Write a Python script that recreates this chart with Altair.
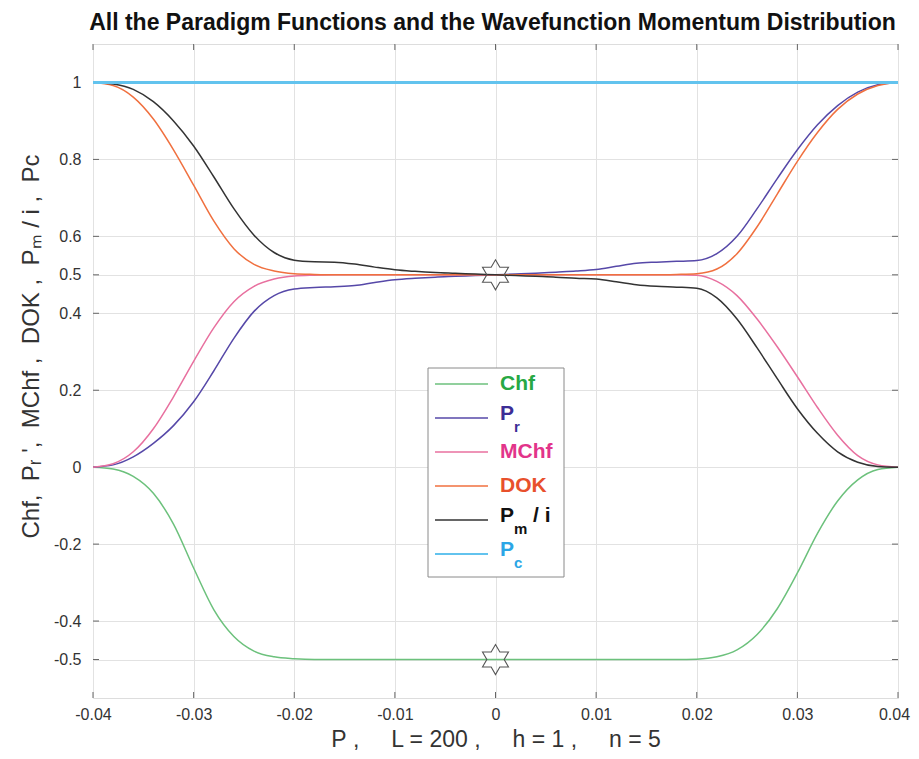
import altair as alt
import pandas as pd

# ---------------- data ----------------
x_vals = [-0.040, -0.038, -0.036, -0.034, -0.032, -0.030, -0.028, -0.026, -0.024, -0.022,
          -0.020, -0.018, -0.016, -0.014, -0.012, -0.010, -0.008, -0.006, -0.004, -0.002,
          0.000, 0.002, 0.004, 0.006, 0.008, 0.010, 0.012, 0.014, 0.016, 0.018,
          0.020, 0.022, 0.024, 0.026, 0.028, 0.030, 0.032, 0.034, 0.036, 0.038, 0.040]

chf = [0.000, -0.005, -0.024, -0.068, -0.148, -0.262, -0.370, -0.440, -0.478, -0.493,
       -0.498, -0.500, -0.500, -0.500, -0.500, -0.500, -0.500, -0.500, -0.500, -0.500,
       -0.500, -0.500, -0.500, -0.500, -0.500, -0.500, -0.500, -0.500, -0.500, -0.500,
       -0.499, -0.493, -0.475, -0.435, -0.368, -0.275, -0.172, -0.088, -0.033, -0.006, 0.000]

pr = [0.000, 0.006, 0.027, 0.062, 0.108, 0.170, 0.250, 0.335, 0.405, 0.446,
      0.463, 0.467, 0.469, 0.472, 0.480, 0.487, 0.491, 0.494, 0.496, 0.498,
      0.500, 0.502, 0.504, 0.507, 0.510, 0.514, 0.522, 0.530, 0.533, 0.535,
      0.537, 0.555, 0.600, 0.672, 0.750, 0.825, 0.890, 0.940, 0.975, 0.994, 1.000]

mchf = [0.000, 0.009, 0.040, 0.100, 0.183, 0.275, 0.362, 0.430, 0.470, 0.489,
        0.497, 0.499, 0.500, 0.500, 0.500, 0.500, 0.500, 0.500, 0.500, 0.500,
        0.500, 0.500, 0.500, 0.500, 0.500, 0.500, 0.500, 0.500, 0.500, 0.500,
        0.499, 0.483, 0.446, 0.385, 0.313, 0.235, 0.155, 0.083, 0.030, 0.006, 0.000]

dok = [1.000, 0.992, 0.962, 0.905, 0.825, 0.733, 0.640, 0.568, 0.527, 0.510,
       0.503, 0.501, 0.500, 0.500, 0.500, 0.500, 0.500, 0.500, 0.500, 0.500,
       0.500, 0.500, 0.500, 0.500, 0.500, 0.500, 0.500, 0.500, 0.500, 0.501,
       0.503, 0.515, 0.555, 0.625, 0.710, 0.795, 0.870, 0.930, 0.970, 0.992, 1.000]

pm = [1.000, 0.996, 0.982, 0.950, 0.900, 0.835, 0.755, 0.672, 0.603, 0.558,
      0.538, 0.534, 0.533, 0.528, 0.520, 0.513, 0.509, 0.506, 0.504, 0.502,
      0.500, 0.498, 0.496, 0.494, 0.491, 0.489, 0.482, 0.474, 0.470, 0.468,
      0.465, 0.440, 0.385, 0.310, 0.230, 0.152, 0.088, 0.040, 0.013, 0.002, 0.000]

pc_x = [-0.040, 0.040]
pc_y = [1.0, 1.0]

star_x = [0.0, 0.0]
star_y = [0.5, -0.5]

series_names = ["Chf", "Pr", "MChf", "DOK", "Pm"]
series_values = [chf, pr, mchf, dok, pm]
line_colors = ["#6cc17c", "#5648a8", "#e8709f", "#f0703f", "#333333"]
pc_color = "#62c3ee"

x_ticks = [-0.04, -0.03, -0.02, -0.01, 0, 0.01, 0.02, 0.03, 0.04]
y_ticks = [-0.5, -0.4, -0.2, 0, 0.2, 0.4, 0.5, 0.6, 0.8, 1]

title_text = "All the Paradigm Functions and the Wavefunction Momentum Distribution"
NB = "\u00a0"
x_title = "P" + NB + "," + NB * 5 + "L = 200" + NB + "," + NB * 5 + "h = 1" + NB + "," + NB * 5 + "n = 5"
y_title = ("Chf," + NB * 2 + "P\u1d63" + NB + "'," + NB * 2 + "MChf" + NB + "," + NB * 2 +
           "DOK" + NB + "," + NB * 2 + "P\u2098" + NB + "/" + NB + "i" + NB + "," + NB * 2 + "Pc")

# legend entries
leg_main = ["Chf", "P", "MChf", "DOK", "P", "P"]
leg_sub = ["", "r", "", "", "m", "c"]
leg_tail = ["", "", "", "", "/ i", ""]
leg_text_colors = ["#27a844", "#3c2d96", "#e2348a", "#e8502c", "#111111", "#2ba6e6"]
leg_line_colors = line_colors + [pc_color]

# ---------------- build ----------------
rows = []
for name, ys in zip(series_names, series_values):
    for xv, yv in zip(x_vals, ys):
        rows.append({"series": name, "x": xv, "y": yv})
df = pd.DataFrame(rows)
pc_df = pd.DataFrame({"x": pc_x, "y": pc_y})
star_df = pd.DataFrame({"x": star_x, "y": star_y})
xt_df = pd.DataFrame({"x": x_ticks})
yt_df = pd.DataFrame({"y": y_ticks})
one = pd.DataFrame({"k": [0]})

W, H = 805, 654
FONT = "Liberation Sans"

xscale = alt.Scale(domain=[-0.04, 0.04], nice=False, zero=False)
yscale = alt.Scale(domain=[-0.6, 1.1], nice=False, zero=False)

xaxis = alt.Axis(values=x_ticks, labelExpr="'' + datum.value", grid=True, gridColor="#e2e2e2",
                 domain=False, ticks=False, tickSize=0, labelPadding=8, labelFontSize=16,
                 labelOffset=alt.condition("datum.value >= 0.04", alt.value(-4), alt.value(0)),
                 labelColor="#333333", labelFont=FONT, labelFlush=False, labelOverlap=False,
                 title=x_title, titleFontSize=23, titleFontWeight="normal", titleColor="#333333",
                 titleFont=FONT, titlePadding=6)
yaxis = alt.Axis(values=y_ticks, labelExpr="'' + datum.value", grid=True, gridColor="#e2e2e2",
                 domain=False, ticks=False, tickSize=0, labelPadding=12, labelFontSize=16,
                 labelColor="#333333", labelFont=FONT, labelFlush=False, labelOverlap=False,
                 title=y_title, titleFontSize=24, titleFontWeight="normal", titleColor="#333333",
                 titleFont=FONT, titleX=-50, titleY=302)

X = alt.X("x:Q", scale=xscale, axis=xaxis)
Y = alt.Y("y:Q", scale=yscale, axis=yaxis)

lines = alt.Chart(df).mark_line(strokeWidth=1.5, interpolate="monotone").encode(
    x=X, y=Y,
    color=alt.Color("series:N", scale=alt.Scale(domain=series_names, range=line_colors), legend=None),
)
pc_line = alt.Chart(pc_df).mark_line(strokeWidth=3, color=pc_color).encode(x=X, y=Y)

star_path = ("M0,-1L0.2887,-0.5L0.866,-0.5L0.5774,0L0.866,0.5L0.2887,0.5L0,1"
             "L-0.2887,0.5L-0.866,0.5L-0.5774,0L-0.866,-0.5L-0.2887,-0.5Z")
stars = alt.Chart(star_df).mark_point(shape=star_path, size=900, filled=False,
                                      stroke="#555555", strokeWidth=1.1, opacity=1).encode(x=X, y=Y)

tick_c = "#666666"
left_ticks = alt.Chart(yt_df).mark_rule(color=tick_c).encode(y=Y, x=alt.value(0), x2=alt.value(6))
right_ticks = alt.Chart(yt_df).mark_rule(color=tick_c).encode(y=Y, x=alt.value(W - 6), x2=alt.value(W))
bottom_ticks = alt.Chart(xt_df).mark_rule(color=tick_c).encode(x=X, y=alt.value(H - 6), y2=alt.value(H))
top_ticks = alt.Chart(xt_df).mark_rule(color=tick_c).encode(x=X, y=alt.value(0), y2=alt.value(6))

layers = [left_ticks, right_ticks, bottom_ticks, top_ticks, lines, pc_line, stars]

# manual legend (positions in plot-area pixels)
box = alt.Chart(one).mark_rect(fill="white", stroke="#8a8a8a", strokeWidth=1).encode(
    x=alt.value(335), x2=alt.value(471), y=alt.value(324), y2=alt.value(533))
layers.append(box)
leg_y = [340, 374, 408, 442, 476, 510]
for i in range(6):
    yy = leg_y[i]
    layers.append(alt.Chart(one).mark_rule(color=leg_line_colors[i], strokeWidth=2 if i == 5 else 1.5).encode(
        x=alt.value(342), x2=alt.value(395), y=alt.value(yy)))
    has_sub = leg_sub[i] != ""
    layers.append(alt.Chart(one).mark_text(text=leg_main[i], align="left", baseline="middle",
                                           font=FONT, fontSize=21, fontWeight="bold",
                                           color=leg_text_colors[i]).encode(
        x=alt.value(407), y=alt.value(yy - 4 if has_sub else yy)))
    if has_sub:
        layers.append(alt.Chart(one).mark_text(text=leg_sub[i], align="left", baseline="middle",
                                               font=FONT, fontSize=15, fontWeight="bold",
                                               color=leg_text_colors[i]).encode(
            x=alt.value(421), y=alt.value(yy + 9)))
    if leg_tail[i]:
        layers.append(alt.Chart(one).mark_text(text=leg_tail[i], align="left", baseline="middle",
                                               font=FONT, fontSize=21, fontWeight="bold",
                                               color=leg_text_colors[i]).encode(
            x=alt.value(440), y=alt.value(yy - 4)))

chart = alt.layer(*layers).properties(
    width=W, height=H,
    title=alt.TitleParams(title_text, font=FONT, fontSize=23, fontWeight="bold", color="#111111",
                          anchor="middle", offset=9, dx=-3),
    padding={"left": 85, "top": 36, "right": 13, "bottom": 53},
    autosize=alt.AutoSizeParams(type="none"),
).configure_view(stroke="#8a8a8a", strokeWidth=1).configure(background="white")

chart.save("out.html", embed_options={"renderer": "svg", "actions": False})
